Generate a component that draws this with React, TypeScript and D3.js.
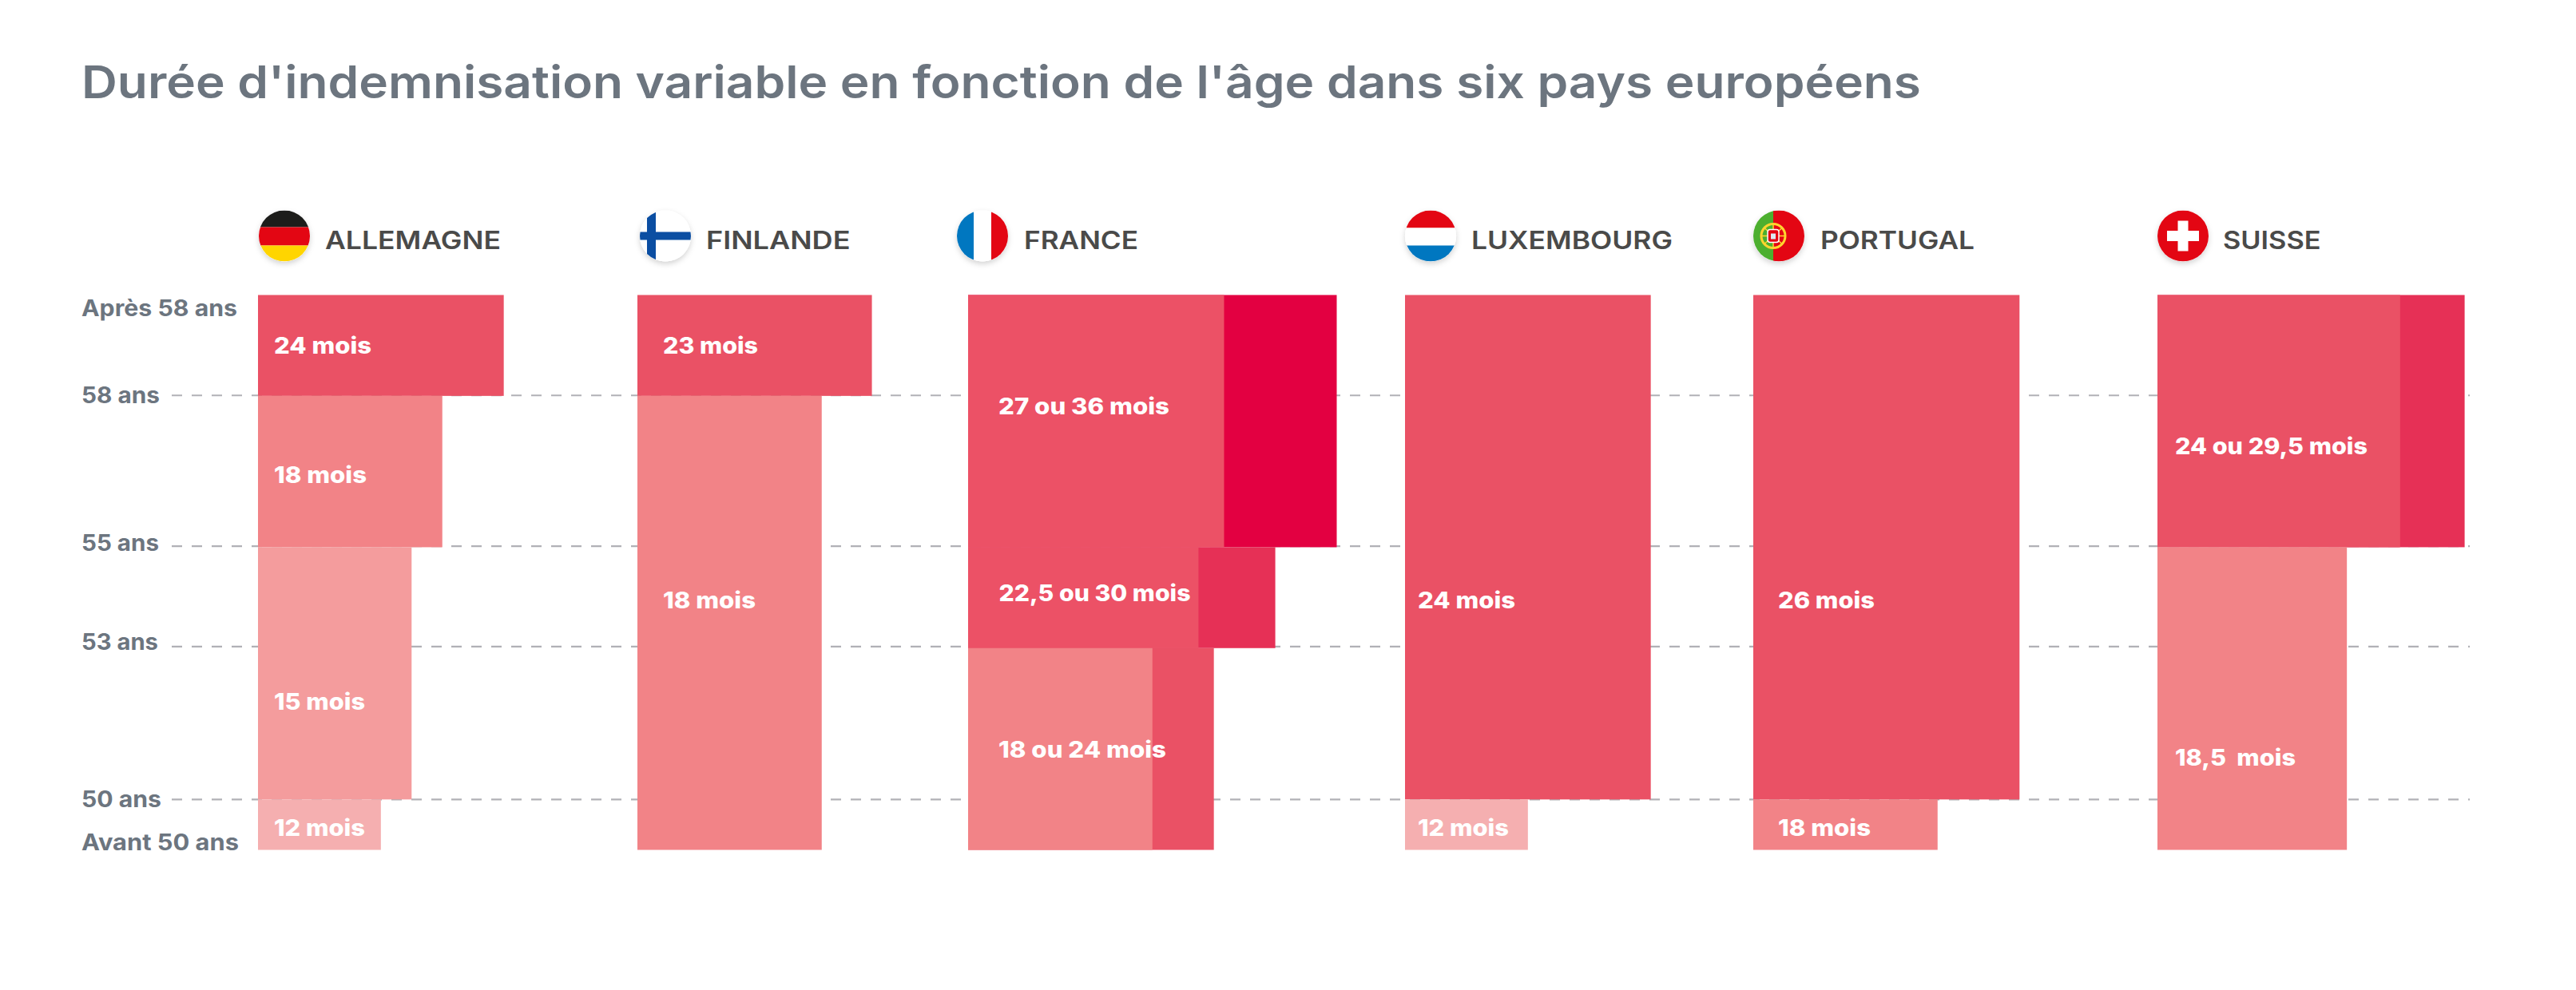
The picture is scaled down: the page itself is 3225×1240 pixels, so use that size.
import React from "react";
import * as d3 from "d3";

const titleText = "Durée d'indemnisation variable en fonction de l'âge dans six pays européens";

const countries = ["ALLEMAGNE", "FINLANDE", "FRANCE", "LUXEMBOURG", "PORTUGAL", "SUISSE"];
const countryLefts = [323, 798, 1212, 1759, 2195, 2701];
const flagCenters = [356, 833, 1230, 1791, 2227, 2733];
const nameStarts = [407, 884, 1282, 1842, 2279, 2783];
const nameWidths = [220, 180.5, 143, 252, 193, 122.5];

const gridAges = [58.01, 55.02, 53.03, 50];
const axisLabels = ["Après 58 ans", "58 ans", "55 ans", "53 ans", "50 ans", "Avant 50 ans"];
const axisLabelAges = [59.58, 57.85, 54.92, 52.97, 49.85, 49];
const axisLabelWidths = [195, 98, 97, 96, 100, 197];

type Seg = { c: string; hi: number; lo: number; m: number; tone: string };
const segments: Seg[] = [
  { c: "ALLEMAGNE", hi: 60, lo: 58, m: 24, tone: "base" },
  { c: "ALLEMAGNE", hi: 58, lo: 55, m: 18, tone: "mid" },
  { c: "ALLEMAGNE", hi: 55, lo: 50, m: 15, tone: "soft" },
  { c: "ALLEMAGNE", hi: 50, lo: 49, m: 12, tone: "pale" },
  { c: "FINLANDE", hi: 60, lo: 58, m: 22.9, tone: "base" },
  { c: "FINLANDE", hi: 58, lo: 49, m: 18, tone: "mid" },
  { c: "FRANCE", hi: 60, lo: 55, m: 36, tone: "deep" },
  { c: "FRANCE", hi: 55, lo: 53, m: 30, tone: "strong" },
  { c: "FRANCE", hi: 60, lo: 55, m: 25, tone: "warm" },
  { c: "FRANCE", hi: 55, lo: 53, m: 22.5, tone: "warm" },
  { c: "FRANCE", hi: 53, lo: 49, m: 24, tone: "base" },
  { c: "FRANCE", hi: 53, lo: 49, m: 18, tone: "mid" },
  { c: "LUXEMBOURG", hi: 60, lo: 50, m: 24, tone: "base" },
  { c: "LUXEMBOURG", hi: 50, lo: 49, m: 12, tone: "pale" },
  { c: "PORTUGAL", hi: 60, lo: 50, m: 26, tone: "base" },
  { c: "PORTUGAL", hi: 50, lo: 49, m: 18, tone: "mid" },
  { c: "SUISSE", hi: 60, lo: 55, m: 30, tone: "strong" },
  { c: "SUISSE", hi: 60, lo: 55, m: 23.7, tone: "base" },
  { c: "SUISSE", hi: 55, lo: 49, m: 18.5, tone: "mid" },
];

type Lab = { c: string; t: string; age: number; inset: number; w: number };
const barLabels: Lab[] = [
  { c: "ALLEMAGNE", t: "24 mois", age: 58.83, inset: 20, w: 122 },
  { c: "ALLEMAGNE", t: "18 mois", age: 56.28, inset: 20, w: 116 },
  { c: "ALLEMAGNE", t: "15 mois", age: 51.78, inset: 20, w: 114 },
  { c: "ALLEMAGNE", t: "12 mois", age: 49.27, inset: 20, w: 114 },
  { c: "FINLANDE", t: "23 mois", age: 58.83, inset: 32, w: 119 },
  { c: "FINLANDE", t: "18 mois", age: 53.78, inset: 32, w: 116 },
  { c: "FRANCE", t: "27 ou 36 mois", age: 57.63, inset: 38, w: 214 },
  { c: "FRANCE", t: "22,5 ou 30 mois", age: 53.93, inset: 38.5, w: 240 },
  { c: "FRANCE", t: "18 ou 24 mois", age: 50.83, inset: 38, w: 210 },
  { c: "LUXEMBOURG", t: "24 mois", age: 53.78, inset: 16, w: 122 },
  { c: "LUXEMBOURG", t: "12 mois", age: 49.27, inset: 16, w: 114 },
  { c: "PORTUGAL", t: "26 mois", age: 53.78, inset: 31, w: 121 },
  { c: "PORTUGAL", t: "18 mois", age: 49.27, inset: 31, w: 116 },
  { c: "SUISSE", t: "24 ou 29,5 mois", age: 56.85, inset: 22, w: 241 },
  { c: "SUISSE", t: "18,5  mois", age: 50.67, inset: 22, w: 151 },
];

const toneNames = ["pale", "soft", "mid", "base", "warm", "strong", "deep"];
const toneColors = ["#F5AFB0", "#F49C9D", "#F28387", "#EA5165", "#EC5166", "#E63056", "#E30041"];

const W = 3225;
const H = 1240;
const FONT = "Inter, 'Open Sans', sans-serif";

const y = d3.scaleLinear().domain([49, 60]).range([1064.5, 369.5]);
const widthOf = d3.scaleLinear().domain([0, 36]).range([0, 461.5]);
const leftOf = d3.scaleOrdinal<string, number>().domain(countries).range(countryLefts);
const toneOf = d3.scaleOrdinal<string, string>().domain(toneNames).range(toneColors);

function Flag({ name, cx, index }: { name: string; cx: number; index: number }) {
  const cy = 295.5;
  const r = 32;
  const x0 = cx - r;
  const y0 = cy - r;
  const d = r * 2;
  const clip = `flag-${index}`;
  let body: React.ReactNode = null;
  if (name === "ALLEMAGNE") {
    body = (
      <>
        <rect x={x0} y={y0} width={d} height={21} fill="#1D1D1B" />
        <rect x={x0} y={y0 + 21} width={d} height={23} fill="#E30613" />
        <rect x={x0} y={y0 + 44} width={d} height={20} fill="#FFD500" />
      </>
    );
  } else if (name === "FINLANDE") {
    body = (
      <>
        <rect x={x0} y={y0} width={d} height={d} fill="#FFFFFF" />
        <rect x={x0} y={cy - 5} width={d} height={10} fill="#0B4EA2" />
        <rect x={x0 + 9} y={y0} width={11} height={d} fill="#0B4EA2" />
      </>
    );
  } else if (name === "FRANCE") {
    body = (
      <>
        <rect x={x0} y={y0} width={21} height={d} fill="#0077C0" />
        <rect x={x0 + 21} y={y0} width={22} height={d} fill="#FFFFFF" />
        <rect x={x0 + 43} y={y0} width={21} height={d} fill="#E30613" />
      </>
    );
  } else if (name === "LUXEMBOURG") {
    body = (
      <>
        <rect x={x0} y={y0} width={d} height={22} fill="#E30613" />
        <rect x={x0} y={y0 + 22} width={d} height={22} fill="#FFFFFF" />
        <rect x={x0} y={y0 + 44} width={d} height={20} fill="#0077C0" />
      </>
    );
  } else if (name === "PORTUGAL") {
    const ex = x0 + 25;
    const ey = cy;
    body = (
      <>
        <rect x={x0} y={y0} width={25} height={d} fill="#4CAF2F" />
        <rect x={x0 + 25} y={y0} width={39} height={d} fill="#E30613" />
        <circle cx={ex} cy={ey} r={15} fill="none" stroke="#FFD52E" strokeWidth={3} />
        <path
          d={`M${ex - 15},${ey}H${ex + 15}M${ex},${ey - 15}V${ey + 15}M${ex - 11},${ey - 10}L${ex + 11},${ey + 10}M${ex + 11},${ey - 10}L${ex - 11},${ey + 10}`}
          stroke="#FFD52E"
          strokeWidth={1.5}
        />
        <rect x={ex - 7} y={ey - 8} width={14} height={16} rx={3} fill="#E30613" stroke="#FFFFFF" strokeWidth={1.5} />
        <rect x={ex - 3} y={ey - 3} width={6} height={7} fill="#DCEBF5" />
      </>
    );
  } else {
    body = (
      <>
        <rect x={x0} y={y0} width={d} height={d} fill="#E30613" />
        <rect x={cx - 20} y={cy - 6.5} width={40} height={13} fill="#FFFFFF" />
        <rect x={cx - 6.5} y={cy - 19} width={13} height={38} fill="#FFFFFF" />
      </>
    );
  }
  return (
    <g>
      <clipPath id={clip}>
        <circle cx={cx} cy={cy} r={r} />
      </clipPath>
      <circle cx={cx} cy={cy} r={r} fill="#FFFFFF" filter="url(#flagShadow)" />
      <g clipPath={`url(#${clip})`}>{body}</g>
    </g>
  );
}

export default function App() {
  return (
    <svg
      width={W}
      height={H}
      viewBox={`0 0 ${W} ${H}`}
      style={{ position: "absolute", left: 0, top: 0, display: "block", background: "#FFFFFF" }}
    >
      <defs>
        <filter id="flagShadow" x="-30%" y="-30%" width="160%" height="170%">
          <feDropShadow dx={0} dy={3} stdDeviation={3.5} floodColor="#000000" floodOpacity={0.18} />
        </filter>
      </defs>

      <text
        x={102}
        y={123}
        fontFamily={FONT}
        fontSize={56}
        fontWeight={600}
        fill="#6C757F"
        textLength={2303}
        lengthAdjust="spacingAndGlyphs"
      >
        {titleText}
      </text>

      {gridAges.map((a) => (
        <line
          key={a}
          x1={215}
          x2={3092}
          y1={y(a)}
          y2={y(a)}
          stroke="#B1B1B6"
          strokeWidth={2.2}
          strokeDasharray="13 12"
        />
      ))}

      {axisLabels.map((t, i) => (
        <text
          key={t}
          x={102}
          y={y(axisLabelAges[i])}
          fontFamily={FONT}
          fontSize={28}
          fontWeight={700}
          fill="#6C757F"
          textLength={axisLabelWidths[i]}
          lengthAdjust="spacingAndGlyphs"
        >
          {t}
        </text>
      ))}

      {countries.map((c, i) => (
        <g key={c}>
          <Flag name={c} cx={flagCenters[i]} index={i} />
          <text
            x={nameStarts[i]}
            y={312}
            fontFamily={FONT}
            fontSize={31}
            fontWeight={600}
            fill="#4A4A49"
            textLength={nameWidths[i]}
            lengthAdjust="spacingAndGlyphs"
          >
            {c}
          </text>
        </g>
      ))}

      {segments.map((s, i) => (
        <rect
          key={i}
          x={leftOf(s.c)}
          y={y(s.hi)}
          width={widthOf(s.m)}
          height={y(s.lo) - y(s.hi)}
          fill={toneOf(s.tone)}
        />
      ))}

      {barLabels.map((l, i) => (
        <text
          key={i}
          x={leftOf(l.c) + l.inset}
          y={y(l.age)}
          fontFamily={FONT}
          fontSize={28}
          fontWeight={800}
          fill="#FFFFFF"
          xmlSpace="preserve"
          textLength={l.w}
          lengthAdjust="spacingAndGlyphs"
        >
          {l.t}
        </text>
      ))}
    </svg>
  );
}
